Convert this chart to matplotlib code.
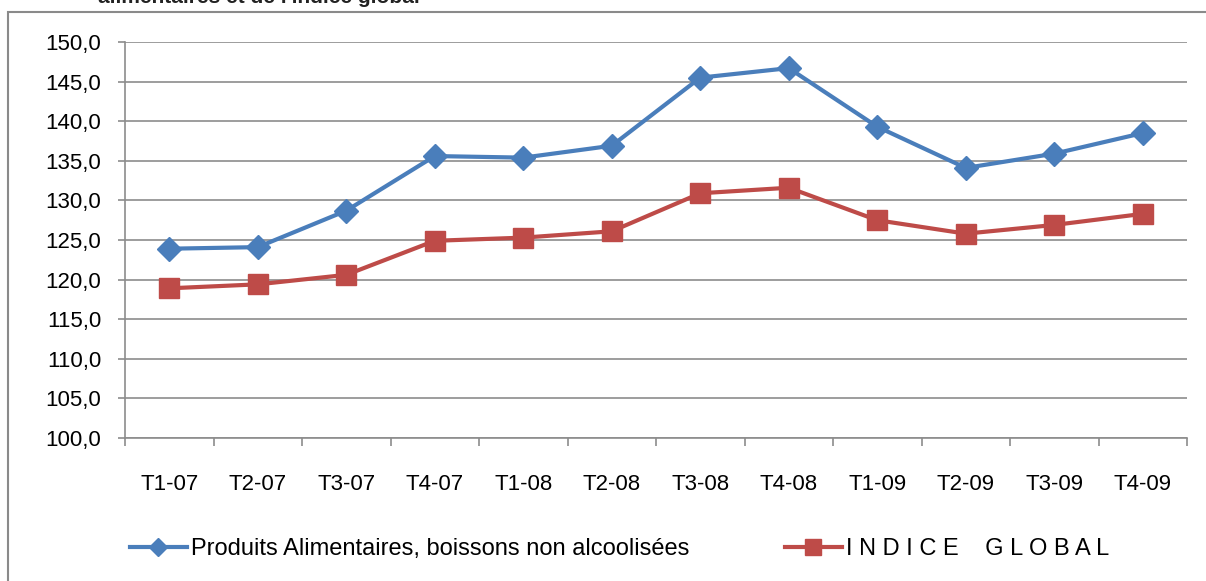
import numpy as np
import matplotlib.pyplot as plt

# data
quarters = ["T1-07", "T2-07", "T3-07", "T4-07", "T1-08", "T2-08",
            "T3-08", "T4-08", "T1-09", "T2-09", "T3-09", "T4-09"]
alimentaires = [123.9, 124.1, 128.7, 135.6, 135.4, 136.9,
                145.5, 146.7, 139.3, 134.1, 135.9, 138.5]
indice_global = [118.9, 119.4, 120.6, 124.9, 125.3, 126.1,
                 130.9, 131.6, 127.5, 125.8, 126.9, 128.3]
yticks = np.arange(100, 151, 5)

blue = "#4A7EBB"
red = "#BE4B48"
grid_col = "#8C8C8C"

plt.rcParams['font.family'] = ['Liberation Sans', 'DejaVu Sans']

fig = plt.figure(figsize=(12.06, 5.81), dpi=100)
W, H = 1206, 581

# outer chart frame (cut off at the right and bottom, as in the source)
frame = plt.Rectangle((8 / W, -0.1), 1.2, 1 - 12 / H + 0.1, transform=fig.transFigure,
                      fill=False, edgecolor="#8A8A8A", linewidth=1.5)
fig.add_artist(frame)

# title, mostly cut off at the top of the picture
fig.text(420 / W, 1.004, "alimentaires et de l'indice global", ha="right", va="center",
         fontsize=15, fontweight="bold", color="#222222")

ax = fig.add_axes([125 / W, 1 - 438 / H, (1187 - 125) / W, (438 - 42) / H])

x = np.arange(len(quarters))
ax.plot(x, alimentaires, color=blue, linewidth=3, marker="D", markersize=12.5)
ax.plot(x, indice_global, color=red, linewidth=3, marker="s", markersize=14)

ax.set_xlim(-0.5, len(quarters) - 0.5)
ax.set_ylim(100, 150)
ax.set_yticks(yticks)
ax.set_yticklabels([f"{v:.1f}".replace(".", ",") for v in yticks], fontsize=16)
ax.yaxis.grid(True, color=grid_col, linewidth=1.2)
ax.set_axisbelow(True)

ax.set_xticks(x)
ax.set_xticklabels(quarters, fontsize=16)
ax.set_xticks(np.arange(-0.5, len(quarters), 1), minor=True)
ax.tick_params(axis="x", which="major", length=0, pad=26)
ax.tick_params(axis="x", which="minor", length=6, color=grid_col, width=1.2)
ax.tick_params(axis="y", length=5, color=grid_col, width=1.2, pad=12)

for side in ["top", "right"]:
    ax.spines[side].set_visible(False)
for side in ["left", "bottom"]:
    ax.spines[side].set_color(grid_col)
    ax.spines[side].set_linewidth(1.2)

# legend entries placed one by one
h1 = plt.Line2D([], [], color=blue, linewidth=3, marker="D", markersize=9)
h2 = plt.Line2D([], [], color=red, linewidth=3, marker="s", markersize=11)
leg_kw = dict(loc="center left", frameon=False, fontsize=17, handlelength=2.4,
              handletextpad=0.2, borderpad=0, borderaxespad=0)
fig.legend([h1], ["Produits Alimentaires, boissons non alcoolisées"],
           bbox_to_anchor=(130 / W, 1 - 549 / H), **leg_kw)
fig.legend([h2], ["I N D I C E    G L O B A L"],
           bbox_to_anchor=(785 / W, 1 - 549 / H), **leg_kw)

fig.savefig("out.png", dpi=100)
